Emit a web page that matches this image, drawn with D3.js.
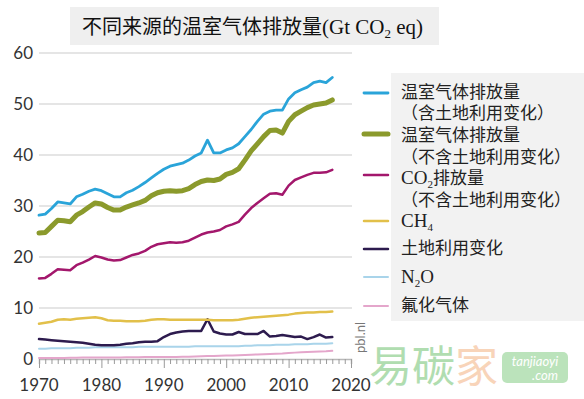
<!DOCTYPE html>
<html>
<head>
<meta charset="utf-8">
<script src="https://cdn.jsdelivr.net/npm/d3@7"></script>
<style>
  body { margin: 0; background: #fff; }
</style>
</head>
<body>
<div id="chart"></div>
<script>
// data, Gt CO2 eq, 1970-2017
var years = d3.range(1970, 2018);
var ghgIncl = [28.2, 28.4, 29.5, 30.8, 30.6, 30.4, 31.8, 32.3, 32.9, 33.3,
  33.0, 32.4, 31.8, 31.8, 32.6, 33.1, 33.8, 34.6, 35.5, 36.4,
  37.2, 37.8, 38.1, 38.4, 39.0, 39.8, 40.4, 42.9, 40.4, 40.4,
  41.0, 41.4, 42.2, 43.6, 45.0, 46.6, 48.0, 48.6, 48.8, 48.8,
  51.0, 52.2, 52.8, 53.3, 54.2, 54.5, 54.2, 55.2];
var ghgExcl = [24.7, 24.8, 26.0, 27.2, 27.1, 26.9, 28.2, 28.9, 29.8, 30.6,
  30.4, 29.7, 29.2, 29.2, 29.8, 30.2, 30.6, 31.1, 32.0, 32.6,
  32.9, 33.0, 32.9, 33.0, 33.4, 34.2, 34.8, 35.1, 35.0, 35.3,
  36.2, 36.6, 37.3, 39.0, 40.8, 42.2, 43.6, 44.8, 44.9, 44.3,
  46.6, 47.9, 48.6, 49.3, 49.8, 50.0, 50.2, 50.8];
var co2Excl = [15.8, 15.9, 16.7, 17.6, 17.5, 17.4, 18.4, 18.9, 19.5, 20.2,
  19.9, 19.5, 19.3, 19.4, 19.9, 20.4, 20.7, 21.2, 22.0, 22.5,
  22.7, 22.9, 22.8, 22.9, 23.2, 23.8, 24.4, 24.8, 25.0, 25.3,
  26.0, 26.4, 26.9, 28.3, 29.6, 30.6, 31.5, 32.4, 32.5, 32.2,
  34.0, 35.1, 35.6, 36.1, 36.5, 36.5, 36.6, 37.1];
var ch4 = [6.9, 7.1, 7.3, 7.7, 7.8, 7.7, 7.9, 8.0, 8.1, 8.2,
  8.0, 7.6, 7.5, 7.5, 7.4, 7.4, 7.4, 7.5, 7.7, 7.8,
  7.8, 7.7, 7.7, 7.7, 7.7, 7.7, 7.7, 7.7, 7.6, 7.6,
  7.6, 7.6, 7.7, 7.9, 8.1, 8.2, 8.3, 8.4, 8.5, 8.6,
  8.7, 8.9, 9.0, 9.1, 9.1, 9.2, 9.2, 9.3];
var landUse = [3.9, 3.8, 3.7, 3.6, 3.5, 3.4, 3.3, 3.2, 3.0, 2.8,
  2.7, 2.7, 2.7, 2.8, 3.0, 3.1, 3.3, 3.4, 3.4, 3.5,
  4.3, 4.9, 5.2, 5.4, 5.5, 5.5, 5.5, 7.8, 5.4, 5.0,
  4.8, 4.8, 5.3, 4.9, 4.9, 4.9, 5.5, 4.4, 4.5, 4.7,
  4.5, 4.3, 4.4, 3.9, 4.3, 4.8, 4.2, 4.3];
var n2o = [2.0, 2.0, 2.1, 2.1, 2.1, 2.1, 2.2, 2.2, 2.2, 2.3,
  2.3, 2.3, 2.3, 2.3, 2.3, 2.3, 2.4, 2.4, 2.4, 2.4,
  2.4, 2.4, 2.4, 2.4, 2.4, 2.5, 2.5, 2.5, 2.5, 2.5,
  2.5, 2.5, 2.5, 2.6, 2.6, 2.7, 2.7, 2.7, 2.8, 2.8,
  2.8, 2.9, 2.9, 2.9, 3.0, 3.0, 3.0, 3.1];
var fGas = [0.2, 0.2, 0.2, 0.2, 0.2, 0.25, 0.25, 0.3, 0.3, 0.3,
  0.3, 0.3, 0.3, 0.3, 0.35, 0.35, 0.35, 0.4, 0.4, 0.4,
  0.4, 0.4, 0.4, 0.45, 0.45, 0.5, 0.55, 0.6, 0.6, 0.65,
  0.7, 0.7, 0.75, 0.8, 0.85, 0.9, 0.95, 1.0, 1.05, 1.1,
  1.2, 1.25, 1.3, 1.35, 1.4, 1.45, 1.5, 1.6];

var yTicks = [0, 10, 20, 30, 40, 50, 60];
var xTicks = [1970, 1980, 1990, 2000, 2010, 2020];

// drawing order: bottom series first
var series = [
  {values: fGas, color: "#e4a6cb", width: 2},
  {values: n2o, color: "#a9d4ea", width: 2},
  {values: landUse, color: "#2d1b4e", width: 2.5},
  {values: ch4, color: "#e2c04a", width: 2.5},
  {values: co2Excl, color: "#a3176c", width: 2.5},
  {values: ghgExcl, color: "#8b9a2c", width: 5},
  {values: ghgIncl, color: "#2aa4d9", width: 2.8}
];

var W = 584, H = 399;
var svg = d3.select("#chart")
  .append("svg")
    .attr("width", W)
    .attr("height", H);

var x = d3.scaleLinear().domain([1970, 2020]).range([39, 351]);
var y = d3.scaleLinear().domain([0, 60]).range([359, 53]);

var sans = "Lato, 'Open Sans', sans-serif";
var cjk = "'Noto Sans CJK SC', sans-serif";
var serif = "'Liberation Serif', serif";

// title
svg.append("rect")
  .attr("x", 70).attr("y", 7)
  .attr("width", 369).attr("height", 38)
  .attr("fill", "#efefef");
var title = svg.append("text")
  .attr("x", 82).attr("y", 34)
  .attr("fill", "#111")
  .style("font-size", "20px");
title.append("tspan").style("font-family", cjk).text("不同来源的温室气体排放量");
title.append("tspan").style("font-family", serif).style("font-size", "21px").text("(Gt CO");
title.append("tspan").style("font-family", serif).style("font-size", "13px").attr("dy", 4).text("2");
title.append("tspan").style("font-family", serif).style("font-size", "21px").attr("dy", -4).text(" eq)");

// grid lines
svg.append("g").selectAll("line")
  .data(yTicks.filter(function(d) { return d > 0; }))
  .enter().append("line")
    .attr("x1", 39).attr("x2", 352)
    .attr("y1", function(d) { return y(d); })
    .attr("y2", function(d) { return y(d); })
    .attr("stroke", "#dcdcdc")
    .attr("stroke-width", 1.5);

// y labels
svg.append("g").selectAll("text")
  .data(yTicks)
  .enter().append("text")
    .attr("x", 33)
    .attr("y", function(d) { return y(d) + 6; })
    .attr("text-anchor", "end")
    .attr("fill", "#333")
    .style("font-family", sans)
    .style("font-size", "17px")
    .text(function(d) { return d; });

// x axis with yearly minor ticks
var xAxis = svg.append("g")
  .attr("transform", "translate(0," + y(0) + ")");
xAxis.call(d3.axisBottom(x).tickValues(d3.range(1970, 2021)).tickSize(5).tickFormat(""));
xAxis.selectAll(".tick")
  .filter(function(d) { return d % 10 == 0; })
  .select("line").attr("y2", 9);
xAxis.selectAll("line").attr("stroke", "#9a9a9a").attr("stroke-width", 1);
xAxis.select(".domain").attr("stroke", "#b8b8b8").attr("stroke-width", 1.5);

svg.append("g").selectAll("text")
  .data(xTicks)
  .enter().append("text")
    .attr("x", function(d) { return x(d); })
    .attr("y", 391)
    .attr("text-anchor", "middle")
    .attr("fill", "#333")
    .style("font-family", sans)
    .style("font-size", "17px")
    .text(function(d) { return d; });

// lines
var line = d3.line()
  .x(function(d, i) { return x(years[i]); })
  .y(function(d) { return y(d); });

svg.append("g").selectAll("path")
  .data(series)
  .enter().append("path")
    .attr("d", function(d) { return line(d.values); })
    .attr("fill", "none")
    .attr("stroke", function(d) { return d.color; })
    .attr("stroke-width", function(d) { return d.width; })
    .attr("stroke-linejoin", "round")
    .attr("stroke-linecap", "round");

// source tag
svg.append("text")
  .attr("transform", "translate(365,353) rotate(-90)")
  .attr("fill", "#777")
  .style("font-family", sans)
  .style("font-size", "13px")
  .text("pbl.nl");

// legend
svg.append("rect")
  .attr("x", 391).attr("y", 73)
  .attr("width", 193).attr("height", 248)
  .attr("fill", "#f2f2f2");

var legendItems = [
  {color: "#2aa4d9", width: 2.8, y: 93},
  {color: "#8b9a2c", width: 5, y: 134},
  {color: "#a3176c", width: 2.5, y: 175},
  {color: "#e2c04a", width: 2.5, y: 221},
  {color: "#2d1b4e", width: 2.5, y: 249},
  {color: "#a9d4ea", width: 2, y: 277},
  {color: "#e4a6cb", width: 2, y: 306}
];
svg.append("g").selectAll("line")
  .data(legendItems)
  .enter().append("line")
    .attr("x1", 364).attr("x2", 388)
    .attr("y1", function(d) { return d.y; })
    .attr("y2", function(d) { return d.y; })
    .attr("stroke", function(d) { return d.color; })
    .attr("stroke-width", function(d) { return d.width; })
    .attr("stroke-linecap", "round");

// legend text rows: pieces of [text, font]
var legendRows = [
  {y: 92, parts: [["温室气体排放量", "cjk"]]},
  {y: 113, parts: [["（含土地利用变化）", "cjk"]]},
  {y: 135, parts: [["温室气体排放量", "cjk"]]},
  {y: 157, parts: [["（不含土地利用变化）", "cjk"]]},
  {y: 178, parts: [["CO", "serif"], ["2", "sub"], ["排放量", "cjk"]]},
  {y: 200, parts: [["（不含土地利用变化）", "cjk"]]},
  {y: 221, parts: [["CH", "serif"], ["4", "sub"]]},
  {y: 248, parts: [["土地利用变化", "cjk"]]},
  {y: 277, parts: [["N", "serif"], ["2", "sub"], ["O", "serif"]]},
  {y: 305, parts: [["氟化气体", "cjk"]]}
];
legendRows.forEach(function(row) {
  var t = svg.append("text")
    .attr("x", 401)
    .attr("y", row.y + 6)
    .attr("fill", "#222");
  var lastSub = false;
  row.parts.forEach(function(p) {
    var s = t.append("tspan").text(p[0]);
    if (p[1] == "sub") {
      s.style("font-family", serif).style("font-size", "11px").attr("dy", 4);
      lastSub = true;
    } else {
      if (lastSub) { s.attr("dy", -4); lastSub = false; }
      s.style("font-family", p[1] == "cjk" ? cjk : serif)
       .style("font-size", p[1] == "cjk" ? "17px" : "19px");
    }
  });
});

// watermark
var wm = svg.append("g").attr("opacity", 0.7);
var wmText = wm.append("text")
  .attr("x", 369).attr("y", 382)
  .style("font-family", cjk)
  .style("font-size", "43px");
wmText.append("tspan").attr("fill", "#8fd08f").text("易碳");
wmText.append("tspan").attr("fill", "#f6c29c").text("家");
wm.append("rect")
  .attr("x", 502).attr("y", 352)
  .attr("width", 66).attr("height", 31)
  .attr("rx", 5)
  .attr("fill", "#9fd89f");
wm.append("text")
  .attr("x", 535).attr("y", 366)
  .attr("text-anchor", "middle")
  .attr("fill", "#fff")
  .style("font-family", sans)
  .style("font-style", "italic")
  .style("font-size", "13px")
  .text("tanjiaoyi");
wm.append("text")
  .attr("x", 545).attr("y", 380)
  .attr("text-anchor", "middle")
  .attr("fill", "#fff")
  .style("font-family", sans)
  .style("font-style", "italic")
  .style("font-size", "13px")
  .text(".com");
</script>
</body>
</html>
